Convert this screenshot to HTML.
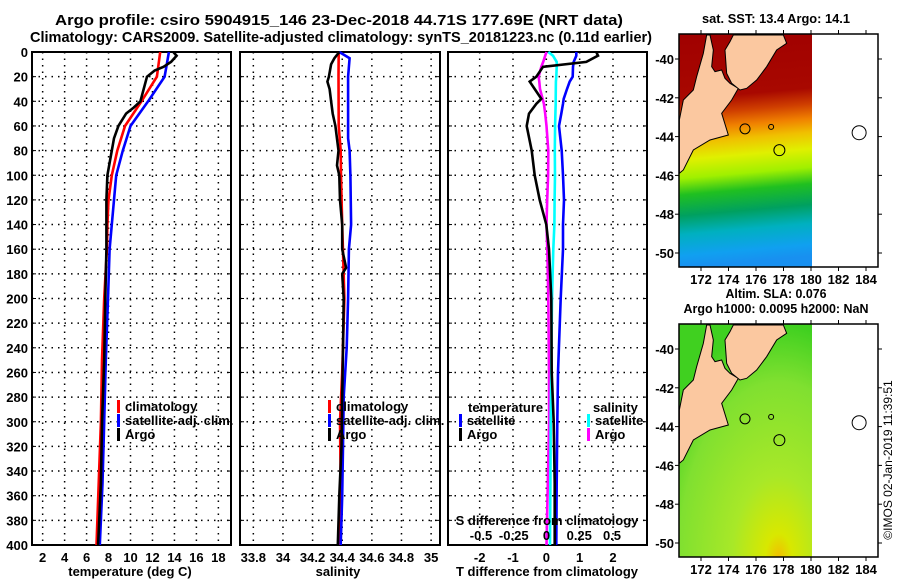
<!DOCTYPE html>
<html><head><meta charset="utf-8"><style>
html,body{margin:0;padding:0;background:#fff;}
svg{display:block;font-family:"Liberation Sans",Arial,sans-serif;font-weight:bold;}
</style></head><body>
<svg id="fig" width="900" height="580" viewBox="0 0 900 580" xmlns="http://www.w3.org/2000/svg">
<text x="55" y="25" font-size="15" textLength="568" lengthAdjust="spacingAndGlyphs">Argo profile: csiro 5904915_146 23-Dec-2018 44.71S 177.69E (NRT data)</text>
<text x="30" y="42" font-size="15" textLength="622" lengthAdjust="spacingAndGlyphs">Climatology: CARS2009. Satellite-adjusted climatology: synTS_20181223.nc (0.11d earlier)</text>
<g id="maps"></g>
<g id="panels"></g>
<text transform="translate(892,460) rotate(-90)" font-size="12" font-weight="normal" text-anchor="middle">©IMOS 02-Jan-2019 11:39:51</text>
</svg>
<script>
// ---- data ----
const depthTicks=[0,20,40,60,80,100,120,140,160,180,200,220,240,260,280,300,320,340,360,380,400];
const tempTicks=[2,4,6,8,10,12,14,16,18];
const salTicks=[33.8,34,34.2,34.4,34.6,34.8,35];
const salTickLabels=["33.8","34","34.2","34.4","34.6","34.8","35"];
const tdiffTicks=[-2,-1,0,1,2];
const sdiffTicks=[-0.5,-0.25,0,0.25,0.5];
const sdiffTickLabels=["-0.5","-0.25","0","0.25","0.5"];

const climDepth=[0,20,40,60,80,100,120,140,160,200,250,300,350,400];
const climTemp=[12.7,12.4,11.0,9.5,8.8,8.3,8.0,7.9,7.85,7.6,7.4,7.3,7.1,6.9];
const satDepth=[0,10,20,40,60,80,100,120,140,160,200,250,300,350,400];
const satTemp=[13.5,13.3,13.1,11.6,10.0,9.3,8.7,8.5,8.3,8.1,7.95,7.75,7.6,7.45,7.2];
const argoDepth=[0,3,8,12,15,20,30,40,45,50,60,70,80,100,120,140,160,200,250,300,350,400];
const argoTemp=[13.9,14.2,13.7,13.0,12.2,11.5,11.2,10.9,10.3,9.6,8.9,8.5,8.3,7.9,7.8,7.8,7.8,7.7,7.6,7.4,7.3,7.05];

const climSDepth=[0,20,60,80,100,140,200,260,300,350,400];
const climSal=[34.376,34.375,34.376,34.39,34.392,34.40,34.415,34.40,34.385,34.39,34.38];
const satSDepth=[0,5,20,70,80,100,140,160,200,240,280,320,360,400];
const satSal=[34.38,34.45,34.44,34.44,34.45,34.455,34.46,34.445,34.44,34.43,34.41,34.405,34.40,34.39];
const argoSDepth=[0,5,10,20,24,30,40,50,60,80,92,100,120,140,160,175,180,200,240,280,320,360,400];
const argoSal=[34.38,34.347,34.325,34.31,34.30,34.315,34.325,34.336,34.354,34.375,34.365,34.38,34.385,34.40,34.40,34.426,34.40,34.41,34.405,34.40,34.395,34.38,34.37];

const dDepth=[0,3,8,12,20,24,30,38,42,50,60,80,100,120,140,160,200,260,300,350,400];
const satTdiff=[0.9,0.9,0.82,0.8,0.79,0.7,0.62,0.52,0.5,0.45,0.38,0.46,0.5,0.53,0.5,0.5,0.43,0.35,0.33,0.31,0.3];
const argoTdiff=[1.5,1.55,1.2,-0.1,-0.3,-0.5,-0.35,-0.15,-0.3,-0.52,-0.59,-0.44,-0.35,-0.2,0.0,0.08,0.15,0.16,0.22,0.25,0.25];
const satSdiff=[0.014,0.05,0.078,0.078,0.075,0.072,0.071,0.07,0.07,0.068,0.066,0.063,0.065,0.062,0.06,0.052,0.042,0.036,0.032,0.03,0.027];
const argoSdiff=[0,-0.01,-0.025,-0.04,-0.06,-0.055,-0.05,-0.03,-0.02,-0.01,0,0.014,0.012,0.005,0,0.006,0.014,0.019,0.02,0.01,0];

const NS="http://www.w3.org/2000/svg";
function mk(parent,tag,attrs,text){const e=document.createElementNS(NS,tag);for(const k in attrs)e.setAttribute(k,attrs[k]);if(text!==undefined)e.textContent=text;parent.appendChild(e);return e;}
const panels=document.getElementById('panels');
const Y0=52,Y1=545;
const yD=d=>Y0+(Y1-Y0)*d/400;

function panel(name,x0,x1,dmin,dmax,ticks,labels,showY){
  const g=mk(panels,'g',{});
  
  
  const xs=v=>x0+(x1-x0)*(v-dmin)/(dmax-dmin);
  ticks.forEach((t,i)=>{
    const l=mk(g,'line',{x1:xs(t),x2:xs(t),y1:Y0,y2:Y1,stroke:'#000','stroke-width':1.5,'stroke-dasharray':'1.5,5'});
    
    
    if(labels){const tx=mk(g,'text',{x:xs(t),y:Y1+17,'font-size':13,'text-anchor':'middle'},labels[i]);
    
    }
  });
  depthTicks.forEach(d=>{
    if(d>0&&d<400){const l=mk(g,'line',{x1:x0,x2:x1,y1:yD(d),y2:yD(d),stroke:'#000','stroke-width':1.5,'stroke-dasharray':'1.5,5'});
    
    }
    mk(g,'line',{x1:x0,x2:x0+4,y1:yD(d),y2:yD(d),stroke:'#000','stroke-width':1});
    mk(g,'line',{x1:x1-4,x2:x1,y1:yD(d),y2:yD(d),stroke:'#000','stroke-width':1});
    if(showY){const t=mk(g,'text',{x:28,y:yD(d)+5,'font-size':13,'text-anchor':'end'},String(d));
    
    }
  });
  const r=mk(g,'rect',{x:x0,y:Y0,width:x1-x0,height:Y1-Y0,fill:'none',stroke:'#000','stroke-width':2});
  
  
  return {g,xs};
}
function line(p,name,depths,vals,xs,color){
  const pts=depths.map((d,i)=>xs(vals[i]).toFixed(1)+','+yD(d).toFixed(1)).join(' ');
  const pl=mk(p.g,'polyline',{points:pts,fill:'none',stroke:color,'stroke-width':2.6,'stroke-linejoin':'miter'});
  
  
}
function legend(g,x,y,color,label,name){
  const e=mk(g,'g',{});
  
  
  mk(e,'rect',{x:x,y:y-11,width:3,height:13,fill:color});
  mk(e,'text',{x:x+8,y:y,'font-size':13},label);
}

// panel 1 temperature
const p1=panel('temperature-panel',32,231,1.03,19.15,tempTicks,tempTicks.map(String),true);
line(p1,'temp-climatology-line',climDepth,climTemp,p1.xs,'#ff0000');
line(p1,'temp-satellite-line',satDepth,satTemp,p1.xs,'#0000ff');
line(p1,'temp-argo-line',argoDepth,argoTemp,p1.xs,'#000000');
legend(p1.g,117,411,'#ff0000','climatology','legend-climatology');
legend(p1.g,117,425,'#0000ff','satellite-adj. clim.','legend-satellite');
legend(p1.g,117,439,'#000000','Argo','legend-argo');
mk(p1.g,'text',{x:130,y:576,'font-size':13,'text-anchor':'middle'},'temperature (deg C)');

// panel 2 salinity
const p2=panel('salinity-panel',240,440,33.71,35.06,salTicks,salTickLabels,false);
line(p2,'sal-climatology-line',climSDepth,climSal,p2.xs,'#ff0000');
line(p2,'sal-satellite-line',satSDepth,satSal,p2.xs,'#0000ff');
line(p2,'sal-argo-line',argoSDepth,argoSal,p2.xs,'#000000');
legend(p2.g,328,411,'#ff0000','climatology','legend-climatology');
legend(p2.g,328,425,'#0000ff','satellite-adj. clim.','legend-satellite');
legend(p2.g,328,439,'#000000','Argo','legend-argo');
mk(p2.g,'text',{x:338,y:576,'font-size':13,'text-anchor':'middle'},'salinity');

// panel 3 differences
const p3=panel('difference-panel',448,647,-2.95,3.02,tdiffTicks,tdiffTicks.map(String),false);
const sx=v=>546.5+v*131;
line(p3,'sdiff-argo-line',dDepth,argoSdiff,sx,'#ff00ff');
line(p3,'sdiff-satellite-line',dDepth,satSdiff,sx,'#00ffff');
line(p3,'tdiff-satellite-line',dDepth,satTdiff,p3.xs,'#0000ff');
line(p3,'tdiff-argo-line',dDepth,argoTdiff,p3.xs,'#000000');
mk(p3.g,'text',{x:468,y:412,'font-size':13},'temperature');
legend(p3.g,459,425,'#0000ff','satellite','legend-t-satellite');
legend(p3.g,459,439,'#000000','Argo','legend-t-argo');
mk(p3.g,'text',{x:593,y:412,'font-size':13},'salinity');
legend(p3.g,587,425,'#00ffff','satellite','legend-s-satellite');
legend(p3.g,587,439,'#ff00ff','Argo','legend-s-argo');
mk(p3.g,'text',{x:547,y:525,'font-size':13,'text-anchor':'middle'},'S difference from climatology');
sdiffTicks.forEach((t,i)=>{const tx=mk(p3.g,'text',{x:sx(t),y:540,'font-size':13,'text-anchor':'middle'},sdiffTickLabels[i]);

});
mk(p3.g,'text',{x:547,y:576,'font-size':13,'text-anchor':'middle'},'T difference from climatology');

// ---- maps ----
const maps=document.getElementById('maps');
const lonTicks=[172,174,176,178,180,182,184];
const latTicks=[-40,-42,-44,-46,-48,-50];
const southIsland="88,360 88,520 100,510 130,450 180,420 235,405 215,340 245,300 265,265 240,250 225,235 215,210 195,215 185,200 190,150 180,105 170,105 160,160 140,230 130,270 100,300";
const northIsland="250,105 400,105 410,130 380,150 350,200 320,240 290,265 270,270 245,250 230,220 225,150 240,125";
function map(name,top,fillId,titleLines,widths){
  const g=mk(maps,'g',{});
  
  
  const L=679,R=878,T=top,B=top+233;
  const lx=lon=>701+(lon-172)*13.75, ly=lat=>top+25+(-40-lat)*19.4;
  mk(g,'rect',{x:L,y:T,width:812-L,height:B-T,fill:'url(#'+fillId+')'});
  const z=mk(g,'g',{transform:'translate(650,'+(top-34)+') scale(0.3333)'});
  mk(z,'polygon',{points:southIsland,fill:'#fbc8a0',stroke:'#000','stroke-width':3});
  mk(z,'polygon',{points:northIsland,fill:'#fbc8a0',stroke:'#000','stroke-width':3});
  mk(g,'circle',{cx:lx(175.2),cy:ly(-43.6),r:5,fill:'none',stroke:'#000'});
  mk(g,'circle',{cx:lx(177.7),cy:ly(-44.7),r:5.5,fill:'none',stroke:'#000'});
  mk(g,'circle',{cx:lx(177.1),cy:ly(-43.5),r:2.5,fill:'none',stroke:'#000'});
  mk(g,'circle',{cx:lx(183.5),cy:ly(-43.8),r:7,fill:'none',stroke:'#000'});
  mk(g,'rect',{x:L,y:T,width:R-L,height:B-T,fill:'none',stroke:'#000','stroke-width':1.5});
  lonTicks.forEach(v=>{mk(g,'line',{x1:lx(v),x2:lx(v),y1:B,y2:B+4,stroke:'#000'});mk(g,'line',{x1:lx(v),x2:lx(v),y1:T,y2:T-4,stroke:'#000'});
    const t=mk(g,'text',{x:lx(v),y:B+17,'font-size':13,'text-anchor':'middle'},String(v));
    
    });
  latTicks.forEach(v=>{mk(g,'line',{x1:L-4,x2:L,y1:ly(v),y2:ly(v),stroke:'#000'});mk(g,'line',{x1:R,x2:R+4,y1:ly(v),y2:ly(v),stroke:'#000'});
    const t=mk(g,'text',{x:L-5,y:ly(v)+5,'font-size':13,'text-anchor':'end'},String(v));
    
    });
  titleLines.forEach((s,i)=>{const t=mk(g,'text',{x:776-widths[i]/2,y:top-11-(titleLines.length-1-i)*15,'font-size':13,textLength:widths[i],lengthAdjust:'spacingAndGlyphs'},s);
    
    });
}
const defs=mk(document.getElementById('fig'),'defs',{});
const g1=mk(defs,'linearGradient',{id:'sst',x1:0,y1:0,x2:0.05,y2:1});
[[0,'#a00000'],[0.28,'#a80800'],[0.35,'#d04000'],[0.41,'#f08000'],[0.47,'#f0c000'],[0.54,'#e0f000'],[0.62,'#a0f000'],[0.69,'#20c020'],[0.78,'#00a060'],[0.86,'#00b0c0'],[0.95,'#10a0f0'],[1,'#1890f0']].forEach(s=>mk(g1,'stop',{offset:s[0],'stop-color':s[1]}));
const g2=mk(defs,'radialGradient',{id:'sla',cx:0.75,cy:1,r:1});
[[0,'#f0c000'],[0.1,'#d8e800'],[0.35,'#a8e828'],[0.75,'#80e030'],[1,'#40d020']].forEach(s=>mk(g2,'stop',{offset:s[0],'stop-color':s[1]}));
map('sst-map',34,'sst',['sat. SST: 13.4 Argo: 14.1'],[148]);
map('sla-map',324,'sla',['Altim. SLA: 0.076','Argo h1000: 0.0095 h2000: NaN'],[101,185]);
</script>
</body></html>
